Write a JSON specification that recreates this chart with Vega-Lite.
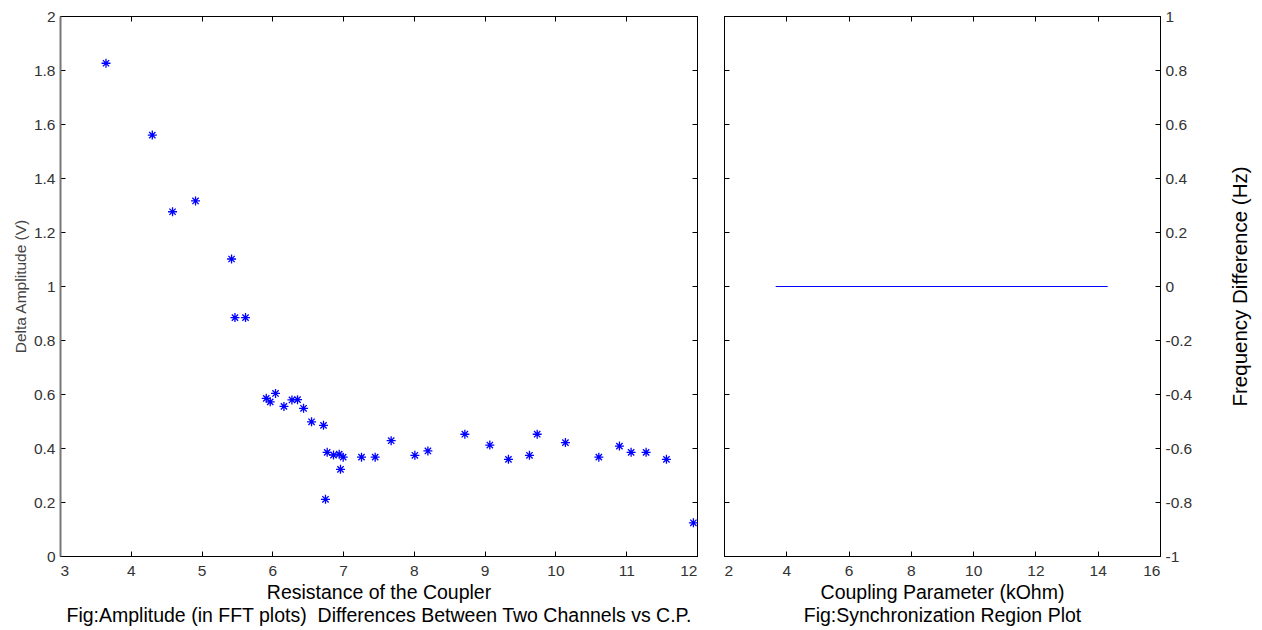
{
  "$schema": "https://vega.github.io/schema/vega-lite/v6.json",
  "background": "white",
  "padding": {"left": 12, "top": 8, "right": 5, "bottom": 2},
  "bounds": "flush",
  "spacing": 27,
  "config": {
    "font": "Liberation Sans",
    "view": {"stroke": "#000", "strokeWidth": 1},
    "axis": {
      "grid": false,
      "domainColor": "#000",
      "tickColor": "#000",
      "tickSize": -5,
      "labelPadding": 10,
      "labelFontSize": 15.5,
      "labelColor": "#333",
      "labelFont": "Liberation Sans",
      "titleFont": "Liberation Sans",
      "titleFontSize": 19.5,
      "titleFontWeight": "normal",
      "titleColor": "#000"
    }
  },
  "datasets": {
    "amp": [
      {"R": 3.650, "A": 1.825}, {"R": 4.304, "A": 1.559}, {"R": 4.590, "A": 1.275},
      {"R": 4.915, "A": 1.315}, {"R": 5.424, "A": 1.100}, {"R": 5.472, "A": 0.883},
      {"R": 5.621, "A": 0.883}, {"R": 5.914, "A": 0.584}, {"R": 5.970, "A": 0.571},
      {"R": 6.045, "A": 0.602}, {"R": 6.164, "A": 0.554}, {"R": 6.277, "A": 0.578},
      {"R": 6.356, "A": 0.579}, {"R": 6.441, "A": 0.547}, {"R": 6.554, "A": 0.497},
      {"R": 6.723, "A": 0.484}, {"R": 6.775, "A": 0.384}, {"R": 6.864, "A": 0.374},
      {"R": 6.945, "A": 0.377}, {"R": 7.001, "A": 0.366}, {"R": 6.963, "A": 0.321},
      {"R": 6.751, "A": 0.210}, {"R": 7.260, "A": 0.366}, {"R": 7.453, "A": 0.366},
      {"R": 7.679, "A": 0.427}, {"R": 8.014, "A": 0.373}, {"R": 8.198, "A": 0.389},
      {"R": 8.720, "A": 0.451}, {"R": 9.073, "A": 0.411}, {"R": 9.336, "A": 0.358},
      {"R": 9.633, "A": 0.373}, {"R": 9.742, "A": 0.451}, {"R": 10.141, "A": 0.420},
      {"R": 10.613, "A": 0.366}, {"R": 10.904, "A": 0.407}, {"R": 11.069, "A": 0.384},
      {"R": 11.281, "A": 0.384}, {"R": 11.568, "A": 0.358}, {"R": 11.949, "A": 0.123}
    ],
    "sync": [
      {"C": 3.66, "F": 0},
      {"C": 14.32, "F": 0}
    ]
  },
  "hconcat": [
    {
      "width": 637,
      "height": 540,
      "data": {"name": "amp"},
      "layer": [
        {
          "mark": {
            "type": "point",
            "shape": "M-1,0H1M0,-1V1M-0.7,-0.7L0.7,0.7M-0.7,0.7L0.7,-0.7",
            "filled": false,
            "stroke": "#0000ff",
            "strokeWidth": 1.3,
            "size": 81,
            "opacity": 1
          },
          "encoding": {
            "x": {
              "field": "R", "type": "quantitative",
              "scale": {"domain": [3, 12], "nice": false, "zero": false},
              "axis": {
                "orient": "bottom",
                "values": [3, 4, 5, 6, 7, 8, 9, 10, 11, 12],
                "labelExpr": "'' + datum.value",
                "labelPadding": 12,
                "title": ["Resistance of the Coupler", "Fig:Amplitude (in FFT plots) \u00a0Differences Between Two Channels vs C.P."],
                "titlePadding": 5,
                "titleLineHeight": 23
              }
            },
            "y": {
              "field": "A", "type": "quantitative",
              "scale": {"domain": [0, 2], "nice": false, "zero": false},
              "axis": {
                "orient": "left",
                "values": [0, 0.2, 0.4, 0.6, 0.8, 1, 1.2, 1.4, 1.6, 1.8, 2],
                "labelExpr": "'' + datum.value",
                "title": "Delta Amplitude (V)",
                "titleFontSize": 15.5,
                "titleColor": "#444",
                "titlePadding": 5,
                "domainColor": "#777",
                "domainWidth": 2
              }
            }
          }
        },
        {
          "mark": {"type": "point", "opacity": 0},
          "encoding": {
            "x": {
              "field": "R", "type": "quantitative",
              "scale": {"domain": [3, 12], "nice": false, "zero": false},
              "axis": {"orient": "top", "values": [3, 4, 5, 6, 7, 8, 9, 10, 11, 12], "labels": false, "title": null}
            },
            "y": {
              "field": "A", "type": "quantitative",
              "scale": {"domain": [0, 2], "nice": false, "zero": false},
              "axis": {"orient": "right", "values": [0, 0.2, 0.4, 0.6, 0.8, 1, 1.2, 1.4, 1.6, 1.8, 2], "labels": false, "title": null}
            }
          }
        }
      ],
      "resolve": {"axis": {"x": "independent", "y": "independent"}}
    },
    {
      "width": 436,
      "height": 540,
      "data": {"name": "sync"},
      "layer": [
        {
          "mark": {"type": "line", "color": "#0000ff", "strokeWidth": 1, "yOffset": 0.5},
          "encoding": {
            "x": {
              "field": "C", "type": "quantitative",
              "scale": {"domain": [2, 16], "nice": false, "zero": false},
              "axis": {
                "orient": "bottom",
                "values": [2, 4, 6, 8, 10, 12, 14, 16],
                "labelExpr": "'' + datum.value",
                "labelPadding": 12,
                "title": ["Coupling Parameter (kOhm)", "Fig:Synchronization Region Plot"],
                "titlePadding": 5,
                "titleLineHeight": 23
              }
            },
            "y": {
              "field": "F", "type": "quantitative",
              "scale": {"domain": [-1, 1], "nice": false, "zero": false},
              "axis": {
                "orient": "right",
                "values": [-1, -0.8, -0.6, -0.4, -0.2, 0, 0.2, 0.4, 0.6, 0.8, 1],
                "labelExpr": "'' + datum.value",
                "labelPadding": 10,
                "title": "Frequency Difference (Hz)",
                "titleFontSize": 20.5,
                "titleAngle": 270,
                "titlePadding": 59
              }
            }
          }
        },
        {
          "mark": {"type": "point", "opacity": 0},
          "encoding": {
            "x": {
              "field": "C", "type": "quantitative",
              "scale": {"domain": [2, 16], "nice": false, "zero": false},
              "axis": {"orient": "top", "values": [2, 4, 6, 8, 10, 12, 14, 16], "labels": false, "title": null}
            },
            "y": {
              "field": "F", "type": "quantitative",
              "scale": {"domain": [-1, 1], "nice": false, "zero": false},
              "axis": {"orient": "left", "values": [-1, -0.8, -0.6, -0.4, -0.2, 0, 0.2, 0.4, 0.6, 0.8, 1], "labels": false, "title": null}
            }
          }
        }
      ],
      "resolve": {"axis": {"x": "independent", "y": "independent"}}
    }
  ]
}
